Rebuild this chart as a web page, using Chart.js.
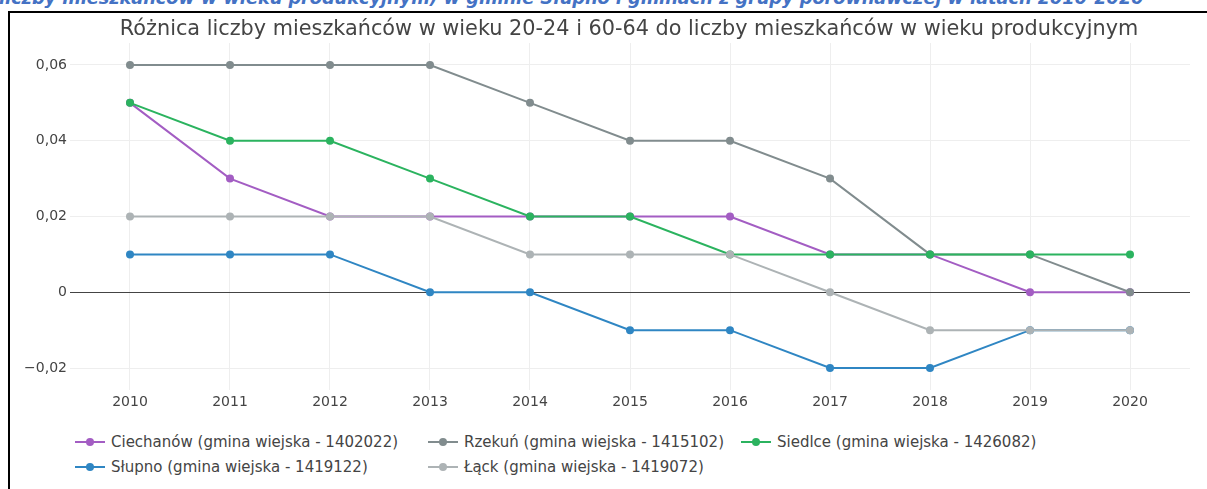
<!DOCTYPE html>
<html lang="pl">
<head>
<meta charset="utf-8">
<title>Różnica liczby mieszkańców w wieku 20-24 i 60-64</title>
<script src="https://cdn.jsdelivr.net/npm/chart.js@4.4.1/dist/chart.umd.min.js"></script>
<style>
  html, body { margin: 0; padding: 0; background: #fff; }
  body { width: 1207px; height: 489px; position: relative; overflow: hidden; font-family: "DejaVu Sans", Verdana, sans-serif; }
  #heading {
    position: absolute; left: -1px; top: -12px; white-space: nowrap; line-height: normal;
    font-size: 17.7px; font-weight: bold; font-style: italic; color: #4472c4;
  }
  #frame {
    position: absolute; left: 8px; top: 11px; right: -5px; bottom: -5px;
    border-left: 2px solid #000; border-top: 2px solid #000; pointer-events: none;
  }
  #title {
    position: absolute; left: 0; width: 1258px; top: 16px; line-height: 24px;
    text-align: center; white-space: nowrap; font-size: 20.8px; color: #444;
  }
  #wrap { position: absolute; left: 0; top: 0; width: 1258px; height: 420px; }
  #legend { position: absolute; left: 75px; top: 429px; font-size: 15px; color: #444; }
  .row { display: flex; height: 25px; align-items: center; }
  .item { display: flex; align-items: center; white-space: nowrap; }
  .item.c0 { width: 353px; }
  .item.c1 { width: 313px; }
  .swatch { position: relative; width: 30px; height: 2px; margin-right: 6px; }
  .swatch i { position: absolute; left: 11px; top: -3px; width: 8px; height: 8px; border-radius: 50%; }
</style>
</head>
<body>
<div id="heading">liczby mieszkańców w wieku produkcyjnym) w gminie Słupno i gminach z grupy porównawczej w latach 2010-2020</div>
<div id="wrap"><canvas id="chart"></canvas></div>
<div id="title">Różnica liczby mieszkańców w wieku 20-24 i 60-64 do liczby mieszkańców w wieku produkcyjnym</div>
<div id="legend"></div>
<div id="frame"></div>
<script>
// Lata i wartości wskaźnika dla każdej gminy
var years = [2010, 2011, 2012, 2013, 2014, 2015, 2016, 2017, 2018, 2019, 2020];
var ciechanow = [0.05, 0.03, 0.02, 0.02, 0.02, 0.02, 0.02, 0.01, 0.01, 0, 0];
var rzekun    = [0.06, 0.06, 0.06, 0.06, 0.05, 0.04, 0.04, 0.03, 0.01, 0.01, 0];
var siedlce   = [0.05, 0.04, 0.04, 0.03, 0.02, 0.02, 0.01, 0.01, 0.01, 0.01, 0.01];
var slupno    = [0.01, 0.01, 0.01, 0, 0, -0.01, -0.01, -0.02, -0.02, -0.01, -0.01];
var lack      = [0.02, 0.02, 0.02, 0.02, 0.01, 0.01, 0.01, 0, -0.01, -0.01, -0.01];
var yTicks = [-0.02, 0, 0.02, 0.04, 0.06];

var series = [
    { label: 'Ciechanów (gmina wiejska - 1402022)', data: ciechanow, color: '#a35dc3' },
    { label: 'Rzekuń (gmina wiejska - 1415102)', data: rzekun, color: '#818c8e' },
    { label: 'Siedlce (gmina wiejska - 1426082)', data: siedlce, color: '#2bb35f' },
    { label: 'Słupno (gmina wiejska - 1419122)', data: slupno, color: '#2f86c3' },
    { label: 'Łąck (gmina wiejska - 1419072)', data: lack, color: '#adb3b5' }
];

function fmt(v) {
    if (Math.abs(v) < 1e-9) return '0';
    var s = Math.abs(v).toFixed(2).replace('.', ',');
    return (v < 0 ? '\u2212' : '') + s;
}

// linia zero rysowana pod seriami
var zeroLine = {
    id: 'zeroLine',
    beforeDatasetsDraw: function(chart) {
        var ctx = chart.ctx, a = chart.chartArea;
        var y = Math.round(chart.scales.y.getPixelForValue(0)) + 0.5;
        ctx.save();
        ctx.strokeStyle = '#444';
        ctx.lineWidth = 1;
        ctx.beginPath();
        ctx.moveTo(a.left, y);
        ctx.lineTo(a.right, y);
        ctx.stroke();
        ctx.restore();
    }
};

var ctx = document.getElementById('chart').getContext('2d');
var chart = new Chart(ctx, {
    type: 'line',
    data: {
        datasets: series.map(function(s, i) {
            return {
                label: s.label,
                data: years.map(function(y, j) { return { x: y, y: s.data[j] }; }),
                borderColor: s.color,
                backgroundColor: s.color,
                borderWidth: 2,
                pointRadius: 4,
                pointBorderWidth: 0,
                pointHoverRadius: 4,
                fill: false,
                tension: 0,
                order: series.length - i
            };
        })
    },
    options: {
        responsive: true,
        maintainAspectRatio: false,
        animation: false,
        layout: { padding: { left: 0, right: 68, top: 43, bottom: 0 } },
        plugins: {
            legend: { display: false },
            tooltip: { enabled: false },
            title: { display: false }
        },
        scales: {
            x: {
                type: 'linear',
                min: 2009.4,
                max: 2020.6,
                afterBuildTicks: function(scale) {
                    scale.ticks = years.map(function(y) { return { value: y }; });
                },
                afterFit: function(scale) { scale.height = 30; },
                grid: { color: '#eeeeee', lineWidth: 1, drawTicks: false },
                border: { display: false },
                ticks: {
                    color: '#444',
                    padding: 4,
                    maxRotation: 0,
                    font: { family: '"DejaVu Sans", Verdana, sans-serif', size: 14 },
                    callback: function(v) { return String(v); }
                }
            },
            y: {
                min: -0.0258,
                max: 0.0658,
                afterBuildTicks: function(scale) {
                    scale.ticks = yTicks.map(function(v) { return { value: v }; });
                },
                afterFit: function(scale) { scale.width = 70; },
                grid: {
                    color: function(c) { return c.tick && Math.abs(c.tick.value) < 1e-9 ? 'rgba(0,0,0,0)' : '#eeeeee'; },
                    lineWidth: 1,
                    drawTicks: false
                },
                border: { display: false },
                ticks: {
                    color: '#444',
                    padding: 3,
                    font: { family: '"DejaVu Sans", Verdana, sans-serif', size: 14 },
                    callback: function(v) { return fmt(v); }
                }
            }
        }
    },
    plugins: [zeroLine]
});

// legenda w dwóch wierszach, kolumny wyrównane
var legend = document.getElementById('legend');
var rows = [[0, 1, 2], [3, 4]];
rows.forEach(function(r) {
    var row = document.createElement('div');
    row.className = 'row';
    r.forEach(function(idx, col) {
        var s = series[idx];
        var item = document.createElement('div');
        item.className = 'item c' + col;
        item.innerHTML = '<span class="swatch" style="background:' + s.color + '"><i style="background:' + s.color + '"></i></span>' + s.label;
        row.appendChild(item);
    });
    legend.appendChild(row);
});
</script>
</body>
</html>
